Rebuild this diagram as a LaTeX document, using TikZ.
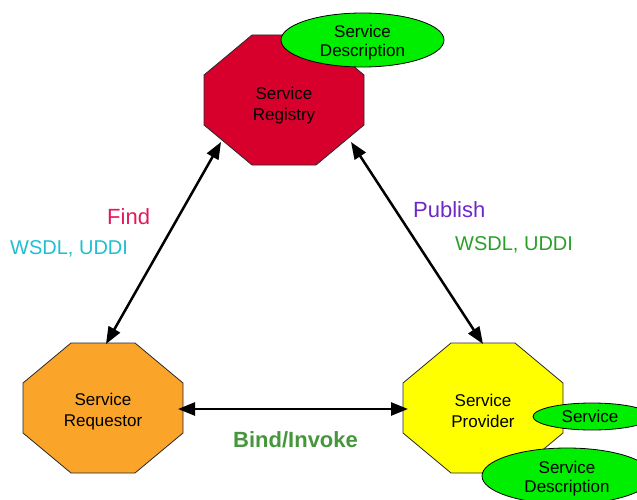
\documentclass[tikz,border=0pt]{standalone}
\usepackage{fontspec}
\setmainfont{Liberation Sans}
\usetikzlibrary{arrows.meta,shapes.geometric}
\definecolor{regfill}{RGB}{215,0,45}
\definecolor{reqfill}{RGB}{250,165,42}
\definecolor{provfill}{RGB}{255,255,0}
\definecolor{ellfill}{RGB}{0,238,0}
\definecolor{edgecol}{RGB}{40,40,40}
\definecolor{findcol}{RGB}{228,24,88}
\definecolor{cyancol}{RGB}{32,190,210}
\definecolor{pubcol}{RGB}{110,40,200}
\definecolor{wgreen}{RGB}{40,160,40}
\definecolor{bindcol}{RGB}{70,150,60}
\newcommand\octpath[2]{(#1-80,#2-25) -- (#1-32,#2-65) -- (#1+32,#2-65) -- (#1+80,#2-25) -- (#1+80,#2+25) -- (#1+32,#2+65) -- (#1-32,#2+65) -- (#1-80,#2+25) -- cycle}
\tikzset{
  octshape/.style={draw=edgecol, line width=0.8pt},
  octtext/.style={inner sep=0pt, align=center, font=\fontsize{17}{21}\selectfont, minimum width=160pt, minimum height=130pt},
  ellnode/.style={ellipse, draw=black, line width=0.8pt, fill=ellfill, inner sep=0pt},
  elltext/.style={inner sep=0pt, align=center, font=\fontsize{17}{19}\selectfont},
  lbl/.style={inner sep=0pt, anchor=base west},
  conn/.style={line width=2.5pt, {Triangle[length=17pt,width=13pt]}-{Triangle[length=17pt,width=13pt]}}
}
\begin{document}
\begin{tikzpicture}[x=1pt,y=-1pt]
\useasboundingbox (0,0) rectangle (637,500);
\clip (0,0) rectangle (637,500);
% octagons
\fill[regfill] \octpath{284}{100};
\draw[octshape] \octpath{284}{100};
\fill[reqfill] \octpath{103}{408};
\draw[octshape] \octpath{103}{408};
\fill[provfill] \octpath{483}{408};
\draw[octshape] \octpath{483}{408};
\node[octtext] (reg) at (284,106) {Service\\Registry};
\node[octtext] (req) at (103,412) {Service\\Requestor};
\node[octtext] (prov) at (483,411) {Service\\Provider};
% connection points
\coordinate (regL) at (221,142);
\coordinate (regR) at (351,142);
\coordinate (reqT) at (106,344);
\coordinate (reqR) at (178,409);
\coordinate (provT) at (483,344);
\coordinate (provL) at (408,409);
% connectors
\draw[conn] (regL) -- (reqT);
\draw[conn] (regR) -- (provT);
\draw[conn] (reqR) -- (provL);
% ellipses
\node[ellnode, minimum width=163pt, minimum height=54pt,
  label={[elltext, yshift=-3pt]center:Service\\Description}] (sd1) at (362.5,40) {};
\node[ellnode, minimum width=118pt, minimum height=27pt,
  label={[elltext, xshift=-2pt]center:Service}] (svc) at (592,416.5) {};
\node[ellnode, minimum width=170pt, minimum height=56pt,
  label={[elltext, yshift=-3pt]center:Service\\Description}] (sd2) at (567,476) {};
% labels
\node[lbl, text=findcol, font=\fontsize{22}{26}\selectfont] (find) at (107,224) {Find};
\node[lbl, text=cyancol, font=\fontsize{20}{24}\selectfont] (w1) at (10,254) {WSDL, UDDI};
\node[lbl, text=pubcol, font=\fontsize{22}{26}\selectfont] (pub) at (413,217) {Publish};
\node[lbl, text=wgreen, font=\fontsize{20}{24}\selectfont] (w2) at (455,250) {WSDL, UDDI};
\node[lbl, text=bindcol, font=\fontsize{22}{26}\selectfont\bfseries] (bind) at (233,447) {Bind/Invoke};
\end{tikzpicture}
\end{document}
